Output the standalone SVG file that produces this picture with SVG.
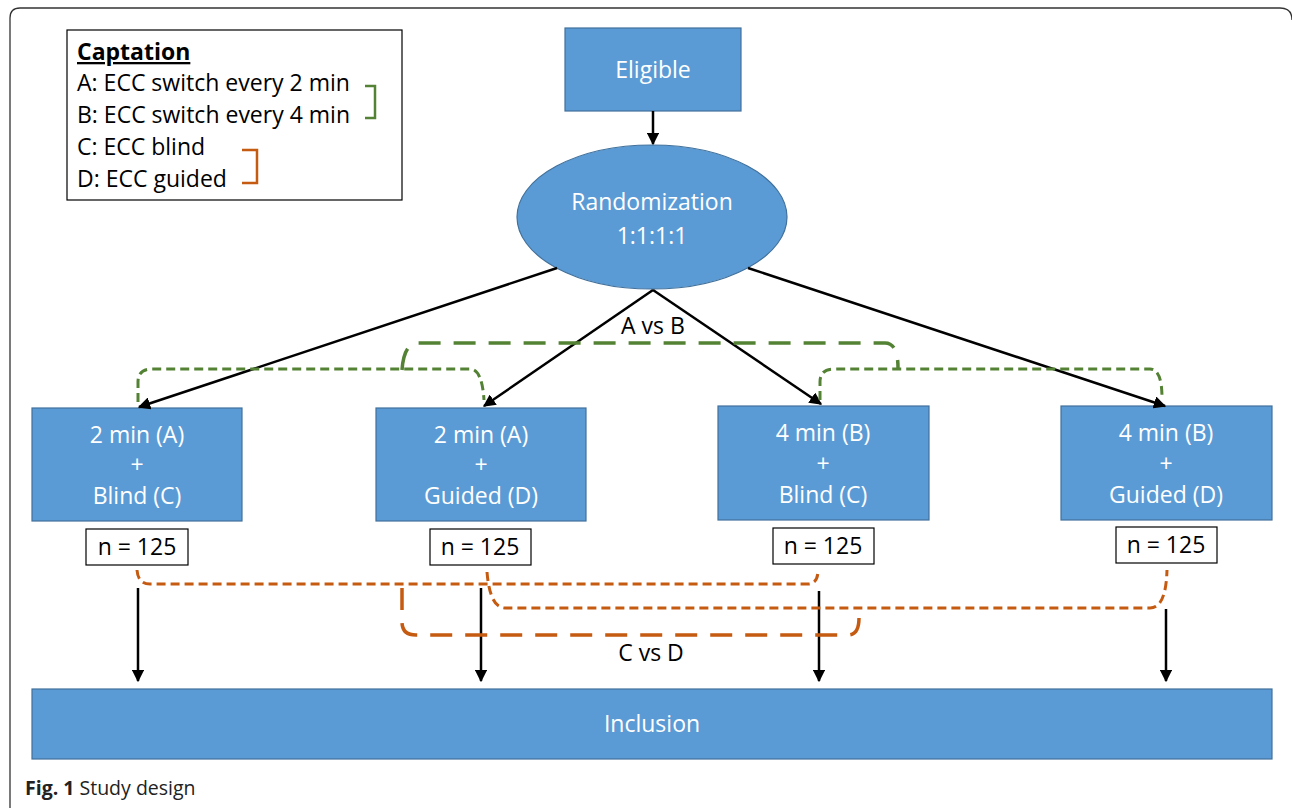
<svg xmlns="http://www.w3.org/2000/svg" width="1292" height="808" viewBox="0 0 1292 808">
<style>
.box{fill:#5B9BD5;stroke:#41719C;stroke-width:1.2}
.wt{font-family:"Open Sans",sans-serif;font-size:23px;fill:#fff;text-anchor:middle}
.bt{font-family:"Open Sans",sans-serif;font-size:23px;fill:#000;text-anchor:middle}
.lg{font-family:"Open Sans",sans-serif;font-size:23px;fill:#000}
.nb{fill:#fff;stroke:#000;stroke-width:1.2}
.ar{stroke:#000;stroke-width:2.5;fill:none;marker-end:url(#ah)}
.gs{stroke:#548235;stroke-width:3;fill:none;stroke-dasharray:9 5}
.gl{stroke:#548235;stroke-width:3.5;fill:none;stroke-dasharray:22 13}
.os{stroke:#C55A11;stroke-width:3;fill:none;stroke-dasharray:9 5}
.ol{stroke:#C55A11;stroke-width:3.5;fill:none;stroke-dasharray:22 13}
</style>
<defs>
<marker id="ah" viewBox="0 0 10 10" refX="9" refY="5" markerWidth="5" markerHeight="5" orient="auto" markerUnits="strokeWidth">
<path d="M0,0 L10,5 L0,10 z" fill="#000"/>
</marker>
</defs>
<rect x="0" y="0" width="1292" height="808" fill="#fff"/>
<path d="M10,808 Q10,805 10,800 V18 Q10,8 20,8 H1280 Q1292,8 1292,20" fill="none" stroke="#333" stroke-width="1.3"/>

<g id="legend">
<rect x="67" y="30" width="335" height="170" fill="#fff" stroke="#000" stroke-width="1.2"/>
<text x="77" y="60" class="lg" font-weight="bold" text-decoration="underline">Captation</text>
<text x="77" y="91" class="lg" textLength="273" lengthAdjust="spacingAndGlyphs">A: ECC switch every 2 min</text>
<text x="77" y="123" class="lg" textLength="273" lengthAdjust="spacingAndGlyphs">B: ECC switch every 4 min</text>
<text x="77" y="155" class="lg">C: ECC blind</text>
<text x="77" y="187" class="lg">D: ECC guided</text>
<path d="M365,86 H375 V118 H365" fill="none" stroke="#548235" stroke-width="2.5"/>
<path d="M242,150 H257 V183 H242" fill="none" stroke="#C55A11" stroke-width="2.5"/>
</g>

<g id="eligible">
<rect x="565" y="28" width="176" height="83" class="box"/>
<text x="653" y="78" class="wt">Eligible</text>
</g>

<g id="randomization">
<ellipse cx="652" cy="217" rx="135" ry="72" class="box"/>
<text x="652" y="210" class="wt">Randomization</text>
<text x="652" y="244" class="wt">1:1:1:1</text>
</g>

<g id="arm1">
<rect x="32" y="408" width="210" height="113" class="box"/>
<text x="137" y="443" class="wt">2 min (A)</text>
<text x="137" y="473" class="wt">+</text>
<text x="137" y="504" class="wt">Blind (C)</text>
<rect x="86" y="529" width="102" height="36" class="nb"/>
<text x="137" y="555" class="bt">n = 125</text>
</g>
<g id="arm2">
<rect x="376" y="408" width="210" height="113" class="box"/>
<text x="481" y="443" class="wt">2 min (A)</text>
<text x="481" y="473" class="wt">+</text>
<text x="481" y="504" class="wt">Guided (D)</text>
<rect x="430" y="529" width="101" height="36" class="nb"/>
<text x="480" y="555" class="bt">n = 125</text>
</g>
<g id="arm3">
<rect x="718" y="406" width="211" height="114" class="box"/>
<text x="823" y="441" class="wt">4 min (B)</text>
<text x="823" y="472" class="wt">+</text>
<text x="823" y="503" class="wt">Blind (C)</text>
<rect x="773" y="528" width="101" height="36" class="nb"/>
<text x="823" y="554" class="bt">n = 125</text>
</g>
<g id="arm4">
<rect x="1061" y="406" width="211" height="114" class="box"/>
<text x="1166" y="441" class="wt">4 min (B)</text>
<text x="1166" y="472" class="wt">+</text>
<text x="1166" y="503" class="wt">Guided (D)</text>
<rect x="1116" y="527" width="101" height="36" class="nb"/>
<text x="1166" y="553" class="bt">n = 125</text>
</g>

<g id="inclusion">
<rect x="32" y="689" width="1240" height="70" class="box"/>
<text x="652" y="732" class="wt">Inclusion</text>
</g>

<g id="connectors">
<line x1="653" y1="111" x2="653" y2="144" class="ar"/>
<line x1="557" y1="268" x2="139" y2="407" class="ar"/>
<line x1="653" y1="290" x2="484" y2="406" class="ar"/>
<line x1="653" y1="290" x2="821" y2="404" class="ar"/>
<line x1="748" y1="268" x2="1165" y2="406" class="ar"/>
<line x1="138" y1="588" x2="138" y2="681" class="ar"/>
<line x1="481" y1="588" x2="481" y2="681" class="ar"/>
<line x1="819" y1="591" x2="819" y2="681" class="ar"/>
<line x1="1166" y1="609" x2="1166" y2="681" class="ar"/>

<path d="M138,402 V382 Q138,369 152,369 H470 Q482,369 484,400" class="gs"/>
<path d="M820,400 V382 Q820,369 834,369 H1150 Q1162,369 1162,398" class="gs"/>
<path d="M402,370 Q404,343 418,343 H885 Q898,343 898,368" class="gl"/>
<text x="653" y="334" class="bt" font-size="21">A vs B</text>

<path d="M137,570 Q138,584 150,584 H808 Q818,584 818,570" class="os"/>
<path d="M487,572 Q490,608 505,608 H1150 Q1166,608 1167,570" class="os"/>
<path d="M402,588 V622 Q402,635 416,635 H848 Q859,635 859,618" class="ol"/>
<text x="651" y="661" class="bt" font-size="21">C vs D</text>
</g>

<text x="25" y="795" font-family="'Open Sans',sans-serif" font-size="19.5" fill="#222"><tspan font-weight="bold">Fig. 1</tspan> Study design</text>
</svg>
